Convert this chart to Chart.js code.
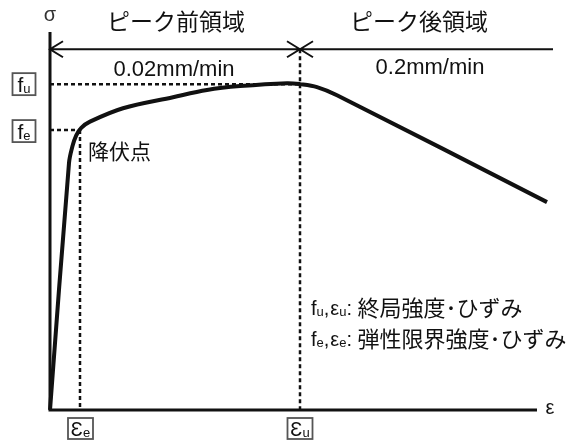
<!DOCTYPE html>
<html>
<head>
<meta charset="utf-8">
<script src="https://cdn.jsdelivr.net/npm/chart.js@4"></script>
<style>
  body { margin: 0; background: #fff; }
  #wrap { width: 577px; height: 441px; }
</style>
</head>
<body>
<div id="wrap"><canvas id="ssChart"></canvas></div>
<script>
// strain (normalised so that eps_u = 1) and stress (normalised so that f_u = 1)
const strain = [0, 0.076, 0.09, 0.105, 0.125, 0.16, 0.292, 0.492, 0.628, 0.76, 0.948, 1.0, 1.068, 1.148, 1.988];
const stress = [0, 0.758, 0.81, 0.843, 0.866, 0.885, 0.926, 0.960, 0.982, 0.994, 1.003, 1.0, 0.991, 0.966, 0.638];

const epsE = 0.12;
const epsU = 1.0;
const fE = 0.859;
const fU = 1.0;

const regionLabels = ["ピーク前領域", "ピーク後領域"];
const rateLabels = ["0.02mm/min", "0.2mm/min"];
const notes = [
  { f: "u", e: "u", text: "終局強度･ひずみ" },
  { f: "e", e: "e", text: "弾性限界強度･ひずみ" },
];

const LATIN = "'Liberation Sans', Arial, sans-serif";
const JP = "'Noto Sans CJK JP', sans-serif";

// draws a symbol with a subscript, returns the end x
function subText(ctx, sym, sub, x, y, size, subSize) {
  ctx.textAlign = "left";
  ctx.textBaseline = "alphabetic";
  ctx.font = size + "px " + LATIN;
  ctx.fillText(sym, x, y);
  let w = ctx.measureText(sym).width;
  ctx.font = subSize + "px " + LATIN;
  ctx.fillText(sub, x + w, y + 1);
  return x + w + ctx.measureText(sub).width;
}

function boxLabel(ctx, sym, sub, cx, cy, w, h, size, subSize) {
  ctx.save();
  ctx.strokeStyle = "#555";
  ctx.lineWidth = 1.8;
  ctx.strokeRect(cx - w / 2, cy - h / 2, w, h);
  ctx.fillStyle = "#111";
  ctx.font = size + "px " + LATIN;
  let w1 = ctx.measureText(sym).width;
  ctx.font = subSize + "px " + LATIN;
  let w2 = ctx.measureText(sub).width;
  subText(ctx, sym, sub, cx - (w1 + w2) / 2, cy + size * 0.36, size, subSize);
  ctx.restore();
}

const sketchPlugin = {
  id: "sketch",
  beforeDatasetsDraw(chart) {
    const ctx = chart.ctx;
    const xs = chart.scales.x, ys = chart.scales.y;
    const area = chart.chartArea;
    const x0 = xs.getPixelForValue(0), y0 = ys.getPixelForValue(0);
    const xe = xs.getPixelForValue(epsE), xu = xs.getPixelForValue(epsU);
    const ye = ys.getPixelForValue(fE), yu = ys.getPixelForValue(fU);
    const yArrow = ys.getPixelForValue(1.107);

    ctx.save();
    ctx.strokeStyle = "#111";
    ctx.fillStyle = "#111";

    // dashed guides
    ctx.setLineDash([4, 3]);
    ctx.lineWidth = 2.5;
    ctx.beginPath();
    ctx.moveTo(x0, yu); ctx.lineTo(xu, yu);
    ctx.moveTo(x0, ye); ctx.lineTo(xe, ye);
    ctx.moveTo(xe, ye); ctx.lineTo(xe, y0);
    ctx.moveTo(xu, yArrow); ctx.lineTo(xu, y0);
    ctx.stroke();
    ctx.setLineDash([]);

    // axes
    ctx.lineWidth = 3;
    ctx.beginPath();
    ctx.moveTo(x0, area.top); ctx.lineTo(x0, y0);
    ctx.lineTo(area.right, y0);
    ctx.stroke();

    // arrow line on top
    ctx.lineWidth = 2;
    ctx.beginPath();
    ctx.moveTo(x0, yArrow); ctx.lineTo(553, yArrow);
    ctx.moveTo(x0 + 13, yArrow - 8); ctx.lineTo(x0, yArrow); ctx.lineTo(x0 + 13, yArrow + 8);
    ctx.moveTo(xu - 13, yArrow - 8); ctx.lineTo(xu + 13, yArrow + 8);
    ctx.moveTo(xu - 13, yArrow + 8); ctx.lineTo(xu + 13, yArrow - 8);
    ctx.stroke();

    // axis names
    ctx.font = "20px " + LATIN;
    ctx.textAlign = "center";
    ctx.textBaseline = "middle";
    ctx.fillStyle = "#333";
    ctx.fillText("σ", x0, 15);
    ctx.fillStyle = "#111";
    ctx.fillText("ε", 550, y0 - 2);

    // region titles and rates
    ctx.font = "23px " + JP;
    ctx.fillText(regionLabels[0], 176, 21);
    ctx.fillText(regionLabels[1], 419, 21);
    ctx.font = "22px " + LATIN;
    ctx.fillText(rateLabels[0], 174, 70);
    ctx.fillText(rateLabels[1], 430, 68);

    // yield point label
    ctx.font = "21px " + JP;
    ctx.textAlign = "left";
    ctx.fillText("降伏点", 88, 151);

    // notes
    notes.forEach((n, i) => {
      const y = 315 + i * 31;
      let x = subText(ctx, "f", n.f, 311, y, 20, 13);
      ctx.font = "20px " + LATIN;
      ctx.fillText(",", x, y);
      x += ctx.measureText(",").width + 1;
      x = subText(ctx, "ε", n.e, x, y, 20, 13);
      ctx.font = "20px " + LATIN;
      ctx.fillText(":", x, y);
      x += ctx.measureText(": ").width;
      ctx.font = "22px " + JP;
      ctx.fillText(n.text, x, y + 1);
    });
    ctx.restore();

    // boxed symbols
    boxLabel(ctx, "f", "u", 24, yu, 23, 22, 21, 13);
    boxLabel(ctx, "f", "e", 24, ye + 1, 23, 22, 21, 13);
    boxLabel(ctx, "Ɛ", "e", xe + 0.5, 428.5, 25, 21, 20, 13);
    boxLabel(ctx, "Ɛ", "u", xu, 428.5, 25, 21, 20, 13);
  },
};

new Chart(document.getElementById("ssChart"), {
  type: "scatter",
  data: {
    datasets: [
      {
        data: strain.map((s, i) => ({ x: s, y: stress[i] })),
        showLine: true,
        borderColor: "#111",
        borderWidth: 4,
        pointRadius: 0,
        tension: 0.35,
        clip: false,
      },
    ],
  },
  options: {
    responsive: true,
    maintainAspectRatio: false,
    animation: false,
    devicePixelRatio: 1,
    layout: { padding: { left: 50, right: 40, top: 32, bottom: 31 } },
    plugins: { legend: { display: false }, tooltip: { enabled: false } },
    scales: {
      x: { type: "linear", display: false, min: 0, max: 1.948 },
      y: { type: "linear", display: false, min: 0, max: 1.16 },
    },
  },
  plugins: [sketchPlugin],
});
</script>
</body>
</html>
